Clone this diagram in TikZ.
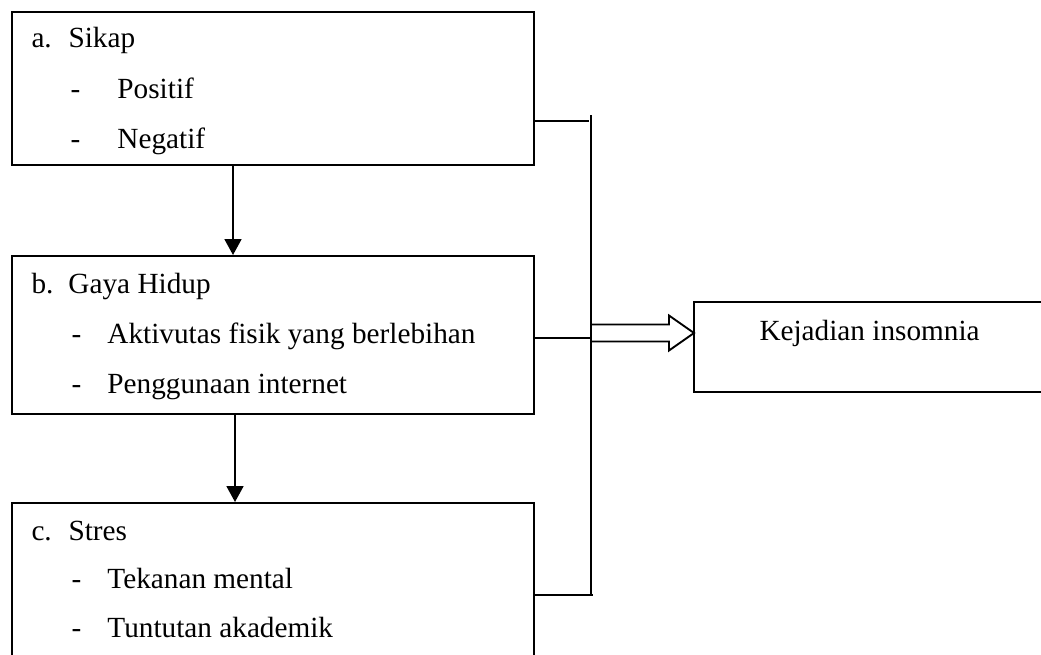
\documentclass[tikz,border=0pt]{standalone}
\usepackage{fontspec}
\setmainfont{Liberation Serif}
\usetikzlibrary{positioning,arrows.meta,calc}
\tikzset{
  box/.style={draw, line width=0.75pt, anchor=north west, inner sep=0pt,
              minimum width=208.8pt},
  item/.style={anchor=base west, inner sep=0pt, font=\fontsize{11.7pt}{14pt}\selectfont},
  call/.style={-{Triangle[length=6.4pt,width=6.8pt]}, line width=0.75pt},
  feed/.style={line width=0.75pt},
  hollow/.style={draw, line width=0.75pt, fill=white, line join=miter},
}

\begin{document}
\begin{tikzpicture}[x=0.4pt, y=-0.4pt]
  \useasboundingbox (0,0) rectangle (1041,654);

  \node[box, minimum height=61.2pt] (ka) at (11,11) {};
  \node[box, minimum height=63.2pt] (kb) at (11,255) {};
  \node[box, minimum height=72pt] (kc) at (11,502) {};
  \node[box, minimum width=144pt, minimum height=36pt] (ki) at (693,301) {};

  \node[item] (ka0) at ($(ka.north west)+(20,36)$) {\makebox[14.8pt][l]{a.}Sikap};
  \node[item] (ka1) at ($(ka.north west)+(59,87)$) {\makebox[18.8pt][l]{-}Positif};
  \node[item] (ka2) at ($(ka.north west)+(59,137)$) {\makebox[18.8pt][l]{-}Negatif};

  \node[item] (kb0) at ($(kb.north west)+(20,38)$) {\makebox[14.8pt][l]{b.}Gaya Hidup};
  \node[item] (kb1) at ($(kb.north west)+(60,88)$) {\makebox[14.4pt][l]{-}Aktivutas fisik yang berlebihan};
  \node[item] (kb2) at ($(kb.north west)+(60,138)$) {\makebox[14.4pt][l]{-}Penggunaan internet};

  \node[item] (kc0) at ($(kc.north west)+(20,38)$) {\makebox[14.8pt][l]{c.}Stres};
  \node[item] (kc1) at ($(kc.north west)+(60,86)$) {\makebox[14.4pt][l]{-}Tekanan mental};
  \node[item] (kc2) at ($(kc.north west)+(60,135)$) {\makebox[14.4pt][l]{-}Tuntutan akademik};

  \node[item] (ki0) at ($(ki.north west)+(66,39)$) {Kejadian insomnia};

  \draw[call] ($(ka.south west)+(222,0)$) -- ($(kb.north west)+(222,0)$);
  \draw[call] ($(kb.south west)+(224,0)$) -- ($(kc.north west)+(224,0)$);

  \coordinate (bt) at (591,115);
  \coordinate (bb) at (591,595);
  \draw[feed] (bt) -- (bb);
  \draw[feed] ([yshift=18pt]ka.south east) -- ++(54,0);
  \draw[feed] ([yshift=-1.2pt]kb.east) -- ++(58,0);
  \draw[feed] ([yshift=-37.2pt]kc.north east) -- ++(58,0);

  \coordinate (tip) at ($(ki.north west)+(1,32)$);
  \draw[hollow] (tip) -- ++(-25,-17.5) -- ++(0,9) -- ++(-78,0) -- ++(0,17)
    -- ++(78,0) -- ++(0,9) -- cycle;
\end{tikzpicture}
\end{document}
